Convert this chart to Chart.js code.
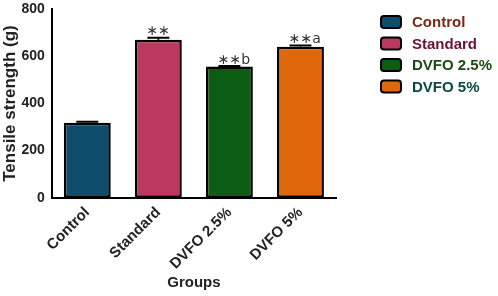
<!DOCTYPE html>
<html>
<head>
<meta charset="utf-8">
<script src="https://cdn.jsdelivr.net/npm/chart.js@4"></script>
<style>
  html, body { margin: 0; padding: 0; background: #fff; }
  #wrap { width: 498px; height: 296px; }
</style>
</head>
<body>
<div id="wrap"><canvas id="chart"></canvas></div>
<script>
const groups = ['Control', 'Standard', 'DVFO 2.5%', 'DVFO 5%'];
const tensile = [318, 671, 557, 641];
const errors = [5, 9, 3, 6];
const marks = ['', '\u2217\u2217', '\u2217\u2217b', '\u2217\u2217a'];
const barColors = ['#0e4e6c', '#b9395f', '#0c5d14', '#e0680c'];
const legendColors = ['#7a2812', '#6a1232', '#1d4a12', '#0b4a44'];
const yTicks = [0, 200, 400, 600, 800];

// error bars, star marks and legend drawn on top
const extras = {
  id: 'extras',
  afterDatasetsDraw(chart) {
    const { ctx, scales: { y } } = chart;
    const meta = chart.getDatasetMeta(0);
    ctx.save();
    meta.data.forEach((bar, i) => {
      const cx = bar.x;
      const top = y.getPixelForValue(tensile[i] + errors[i]);
      const base = y.getPixelForValue(tensile[i]);
      ctx.strokeStyle = '#000';
      ctx.lineWidth = 2;
      ctx.beginPath();
      ctx.moveTo(cx, base);
      ctx.lineTo(cx, top);
      ctx.moveTo(cx - 11, top);
      ctx.lineTo(cx + 11, top);
      ctx.stroke();
      if (marks[i]) {
        ctx.fillStyle = '#333';
        ctx.font = '14px "DejaVu Sans"';
        ctx.textAlign = 'left';
        ctx.textBaseline = 'bottom';
        const w = ctx.measureText('\u2217\u2217').width;
        ctx.fillText(marks[i], cx - w / 2, top + 1);
      }
    });
    ctx.restore();
  },
  afterDraw(chart) {
    const { ctx } = chart;
    ctx.save();
    groups.forEach((g, i) => {
      const yy = 22 + i * 21.5;
      ctx.fillStyle = barColors[i];
      ctx.strokeStyle = '#000';
      ctx.lineWidth = 2;
      ctx.beginPath();
      ctx.roundRect(381, yy - 6, 20, 12, 3);
      ctx.fill();
      ctx.stroke();
      ctx.fillStyle = legendColors[i];
      ctx.font = 'bold 15px Arial';
      ctx.textAlign = 'left';
      ctx.textBaseline = 'middle';
      ctx.fillText(g, 412, yy + 1);
    });
    ctx.restore();
  }
};

new Chart(document.getElementById('chart'), {
  type: 'bar',
  data: {
    labels: groups,
    datasets: [{
      data: tensile,
      backgroundColor: barColors,
      borderColor: '#000',
      borderWidth: 2.5,
      borderSkipped: false,
      barPercentage: 0.66,
      categoryPercentage: 1
    }]
  },
  options: {
    responsive: true,
    maintainAspectRatio: false,
    animation: false,
    layout: { padding: { top: 9, right: 162, left: 0, bottom: 2 } },
    plugins: {
      legend: { display: false },
      tooltip: { enabled: false }
    },
    scales: {
      x: {
        grid: { display: false, drawTicks: true, tickLength: 6, tickColor: '#000', tickWidth: 2 },
        border: { color: '#000', width: 2 },
        ticks: {
          color: '#222',
          font: { family: 'Arial', weight: 'bold', size: 15 },
          minRotation: 45,
          maxRotation: 45,
          padding: 0
        },
        title: {
          display: true,
          text: 'Groups',
          color: '#222',
          font: { family: 'Arial', weight: 'bold', size: 15 },
          padding: { top: 1, bottom: 2 }
        }
      },
      y: {
        min: 0,
        max: 800,
        afterBuildTicks(axis) {
          axis.ticks = yTicks.map(v => ({ value: v }));
        },
        grid: { display: false, drawTicks: true, tickLength: 6, tickColor: '#000', tickWidth: 2 },
        border: { color: '#000', width: 2 },
        ticks: {
          color: '#222',
          font: { family: 'Arial', weight: 'bold', size: 14 },
          padding: 1
        },
        title: {
          display: true,
          text: 'Tensile strength (g)',
          color: '#222',
          font: { family: 'Arial', weight: 'bold', size: 17 },
          padding: { top: 0, bottom: 0 }
        }
      }
    }
  },
  plugins: [extras]
});
</script>
</body>
</html>
